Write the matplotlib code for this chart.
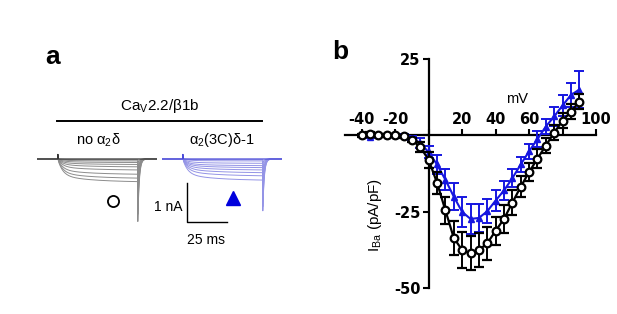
import numpy as np
import matplotlib
matplotlib.use("Agg")
import matplotlib.pyplot as plt

# ---------------- data ----------------
voltages = [-40, -35, -30, -25, -20, -15, -10, -5, 0, 5, 10, 15, 20, 25, 30,
            35, 40, 45, 50, 55, 60, 65, 70, 75, 80, 85, 90]
black_mean = [0.0, 0.5, 0.0, 0.0, 0.0, -0.3, -1.5, -3.8, -8.0, -15.5, -24.5,
              -33.5, -37.5, -38.5, -37.5, -35.3, -31.2, -27.3, -22.0, -16.8,
              -12.0, -7.6, -3.3, 0.9, 4.8, 7.8, 11.0]
black_sem = [0.5, 0.5, 0.5, 0.5, 0.5, 0.5, 0.7, 1.5, 2.5, 3.5, 4.5, 5.5, 6.0,
             5.5, 5.5, 5.5, 4.5, 4.5, 4.0, 3.5, 3.0, 3.0, 2.5, 2.5, 2.5, 2.5, 2.5]
blue_mean = [0.0, -0.5, 0.0, 0.0, 0.0, 0.0, -0.8, -2.5, -5.5, -9.5, -14.5,
             -20.0, -25.0, -27.3, -27.0, -24.8, -21.3, -18.0, -14.0, -9.5,
             -5.2, -1.2, 2.9, 6.2, 9.8, 13.2, 15.0]
blue_sem = [0.5, 0.5, 0.5, 0.5, 0.5, 0.5, 0.7, 1.5, 2.0, 3.0, 3.5, 4.5, 5.0,
            5.0, 4.5, 4.0, 3.5, 3.0, 3.0, 2.5, 2.5, 2.5, 2.5, 3.0, 3.5, 4.0, 6.0]
x_ticks = [-40, -20, 0, 20, 40, 60, 80, 100]
x_ticklabels = ['-40', '-20', '', '20', '40', '60', '', '100']
y_ticks = [-50, -25, 0, 25]
y_ticklabels = ['-50', '-25', '', '25']

# current traces (nA), end-of-pulse amplitude and tail peak for each sweep
black_amp = [0.0, 0.02, 0.05, 0.09, 0.14, 0.20, 0.28, 0.39, 0.49, 0.58]
black_tail = [0.0, 0.10, 0.25, 0.40, 0.60, 0.80, 1.00, 1.25, 1.45, 1.64]
blue_amp = [0.0, 0.02, 0.05, 0.11, 0.17, 0.22, 0.28, 0.35, 0.43, 0.54]
blue_tail = [0.0, 0.10, 0.25, 0.45, 0.65, 0.80, 0.95, 1.10, 1.25, 1.36]
pulse_ms = 50
scale_ms = 25
scale_nA = 1

W, H = 617, 314
fig = plt.figure(figsize=(W / 100, H / 100), dpi=100)


def px_axes(x0, y0, x1, y1):
    return fig.add_axes([x0 / W, 1 - y1 / H, (x1 - x0) / W, (y1 - y0) / H])


canvas = px_axes(0, 0, W, H)
canvas.set_xlim(0, W)
canvas.set_ylim(H, 0)
canvas.axis('off')

reg = 'Liberation Sans'

# ---------------- panel a ----------------
canvas.text(53, 57, 'a', fontsize=19, fontweight='bold', family=reg,
            ha='center', va='center')
canvas.text(160, 106, r'Ca$_\mathregular{V}$2.2/β1b', fontsize=11, family=reg,
            ha='center', va='center')
canvas.plot([57, 262], [121, 121], color='black', lw=1.4)
canvas.text(98, 140, r'no α$_\mathregular{2}$δ', fontsize=10.5, family=reg,
            ha='center', va='center')
canvas.text(222, 140, r'α$_\mathregular{2}$(3C)δ-1', fontsize=10.5, family=reg,
            ha='center', va='center')
canvas.plot([113], [201], 'o', ms=8, mfc='white', mec='black', mew=1.3)
canvas.plot([233], [198], '^', ms=10, color='#0000dd')
canvas.text(183, 207, '1 nA', fontsize=10, family=reg, ha='right', va='center')
canvas.text(206, 240, '25 ms', fontsize=10, family=reg, ha='center', va='center')

t = np.linspace(-13, 62, 3000)


def trace(A, tail):
    tc = np.clip(t, 0, None)
    act = 0.7 * (1 - np.exp(-tc / 3.0)) + 0.3 * (1 - np.exp(-tc / 20.0))
    norm = 0.7 * (1 - np.exp(-pulse_ms / 3.0)) + 0.3 * (1 - np.exp(-pulse_ms / 20.0))
    y = np.zeros_like(t)
    on = (t >= 0) & (t < pulse_ms)
    y[on] = -A * act[on] / norm + 0.12 * np.exp(-t[on] / 0.15)
    off = t >= pulse_ms
    y[off] = -tail * np.exp(-(t[off] - pulse_ms) / 0.9)
    return y


def trace_axes(x0, amps, tails, c_base, c_trace):
    ax = px_axes(x0, 159 - 0.3 * 39, x0 + 120, 159 + 1.8 * 39)
    ax.set_xlim(-13, 62)
    ax.set_ylim(-1.8, 0.3)
    ax.axis('off')
    for i, (A, tl) in enumerate(zip(amps, tails)):
        ax.plot(t, trace(A, tl), color=c_base if i == 0 else c_trace,
                lw=0.9 if i == 0 else 0.7, zorder=3 if i == 0 else 2)
    return ax


trace_axes(37, black_amp, black_tail, '#333333', '#8c8c8c')
axblue = trace_axes(162, blue_amp, blue_tail, '#4a4ad8', '#9494e6')
axblue.plot([2.5, 2.5, 2.5 + scale_ms], [-0.615, -0.615 - scale_nA, -0.615 - scale_nA],
            color='black', lw=1.0, clip_on=False)

# ---------------- panel b ----------------
canvas.text(340, 52, 'b', fontsize=19, fontweight='bold', family=reg,
            ha='center', va='center')
axb = px_axes(345, 59, 596, 288.3)
axb.set_xlim(-50, 100)
axb.set_ylim(-50, 25)
axb.patch.set_alpha(0)
for s in ('right', 'bottom'):
    axb.spines[s].set_visible(False)
axb.spines['top'].set_position(('data', 0))
axb.spines['left'].set_position(('data', 0))
for s in ('top', 'left'):
    axb.spines[s].set_linewidth(1.6)
axb.xaxis.tick_top()
axb.set_xticks(x_ticks)
axb.set_xticklabels(x_ticklabels)
axb.set_yticks(y_ticks)
axb.set_yticklabels(y_ticklabels)
axb.tick_params(axis='both', direction='out', length=4, width=1.5, pad=2,
                labelsize=10.5)
for lab in axb.get_xticklabels() + axb.get_yticklabels():
    lab.set_fontweight('bold')
    lab.set_family('DejaVu Sans')

blue = '#1616e0'
axb.errorbar(voltages, blue_mean, yerr=blue_sem, fmt='-^', color=blue,
             ms=4.5, lw=1.5, elinewidth=1.4, capsize=3.5, capthick=1.4,
             zorder=4, clip_on=False)
axb.errorbar(voltages, black_mean, yerr=black_sem, fmt='-o', color='black',
             mfc='white', mec='black', ms=5.5, mew=1.6, lw=1.6, elinewidth=1.4,
             capsize=3.5, capthick=1.4, zorder=5, clip_on=False)

canvas.text(517, 99, 'mV', fontsize=10.5, family=reg, ha='center', va='center')
canvas.text(375, 215, r'I$_\mathregular{Ba}$ (pA/pF)', fontsize=11, family=reg,
            ha='center', va='center', rotation=90)

fig.savefig('out.png', dpi=100)
